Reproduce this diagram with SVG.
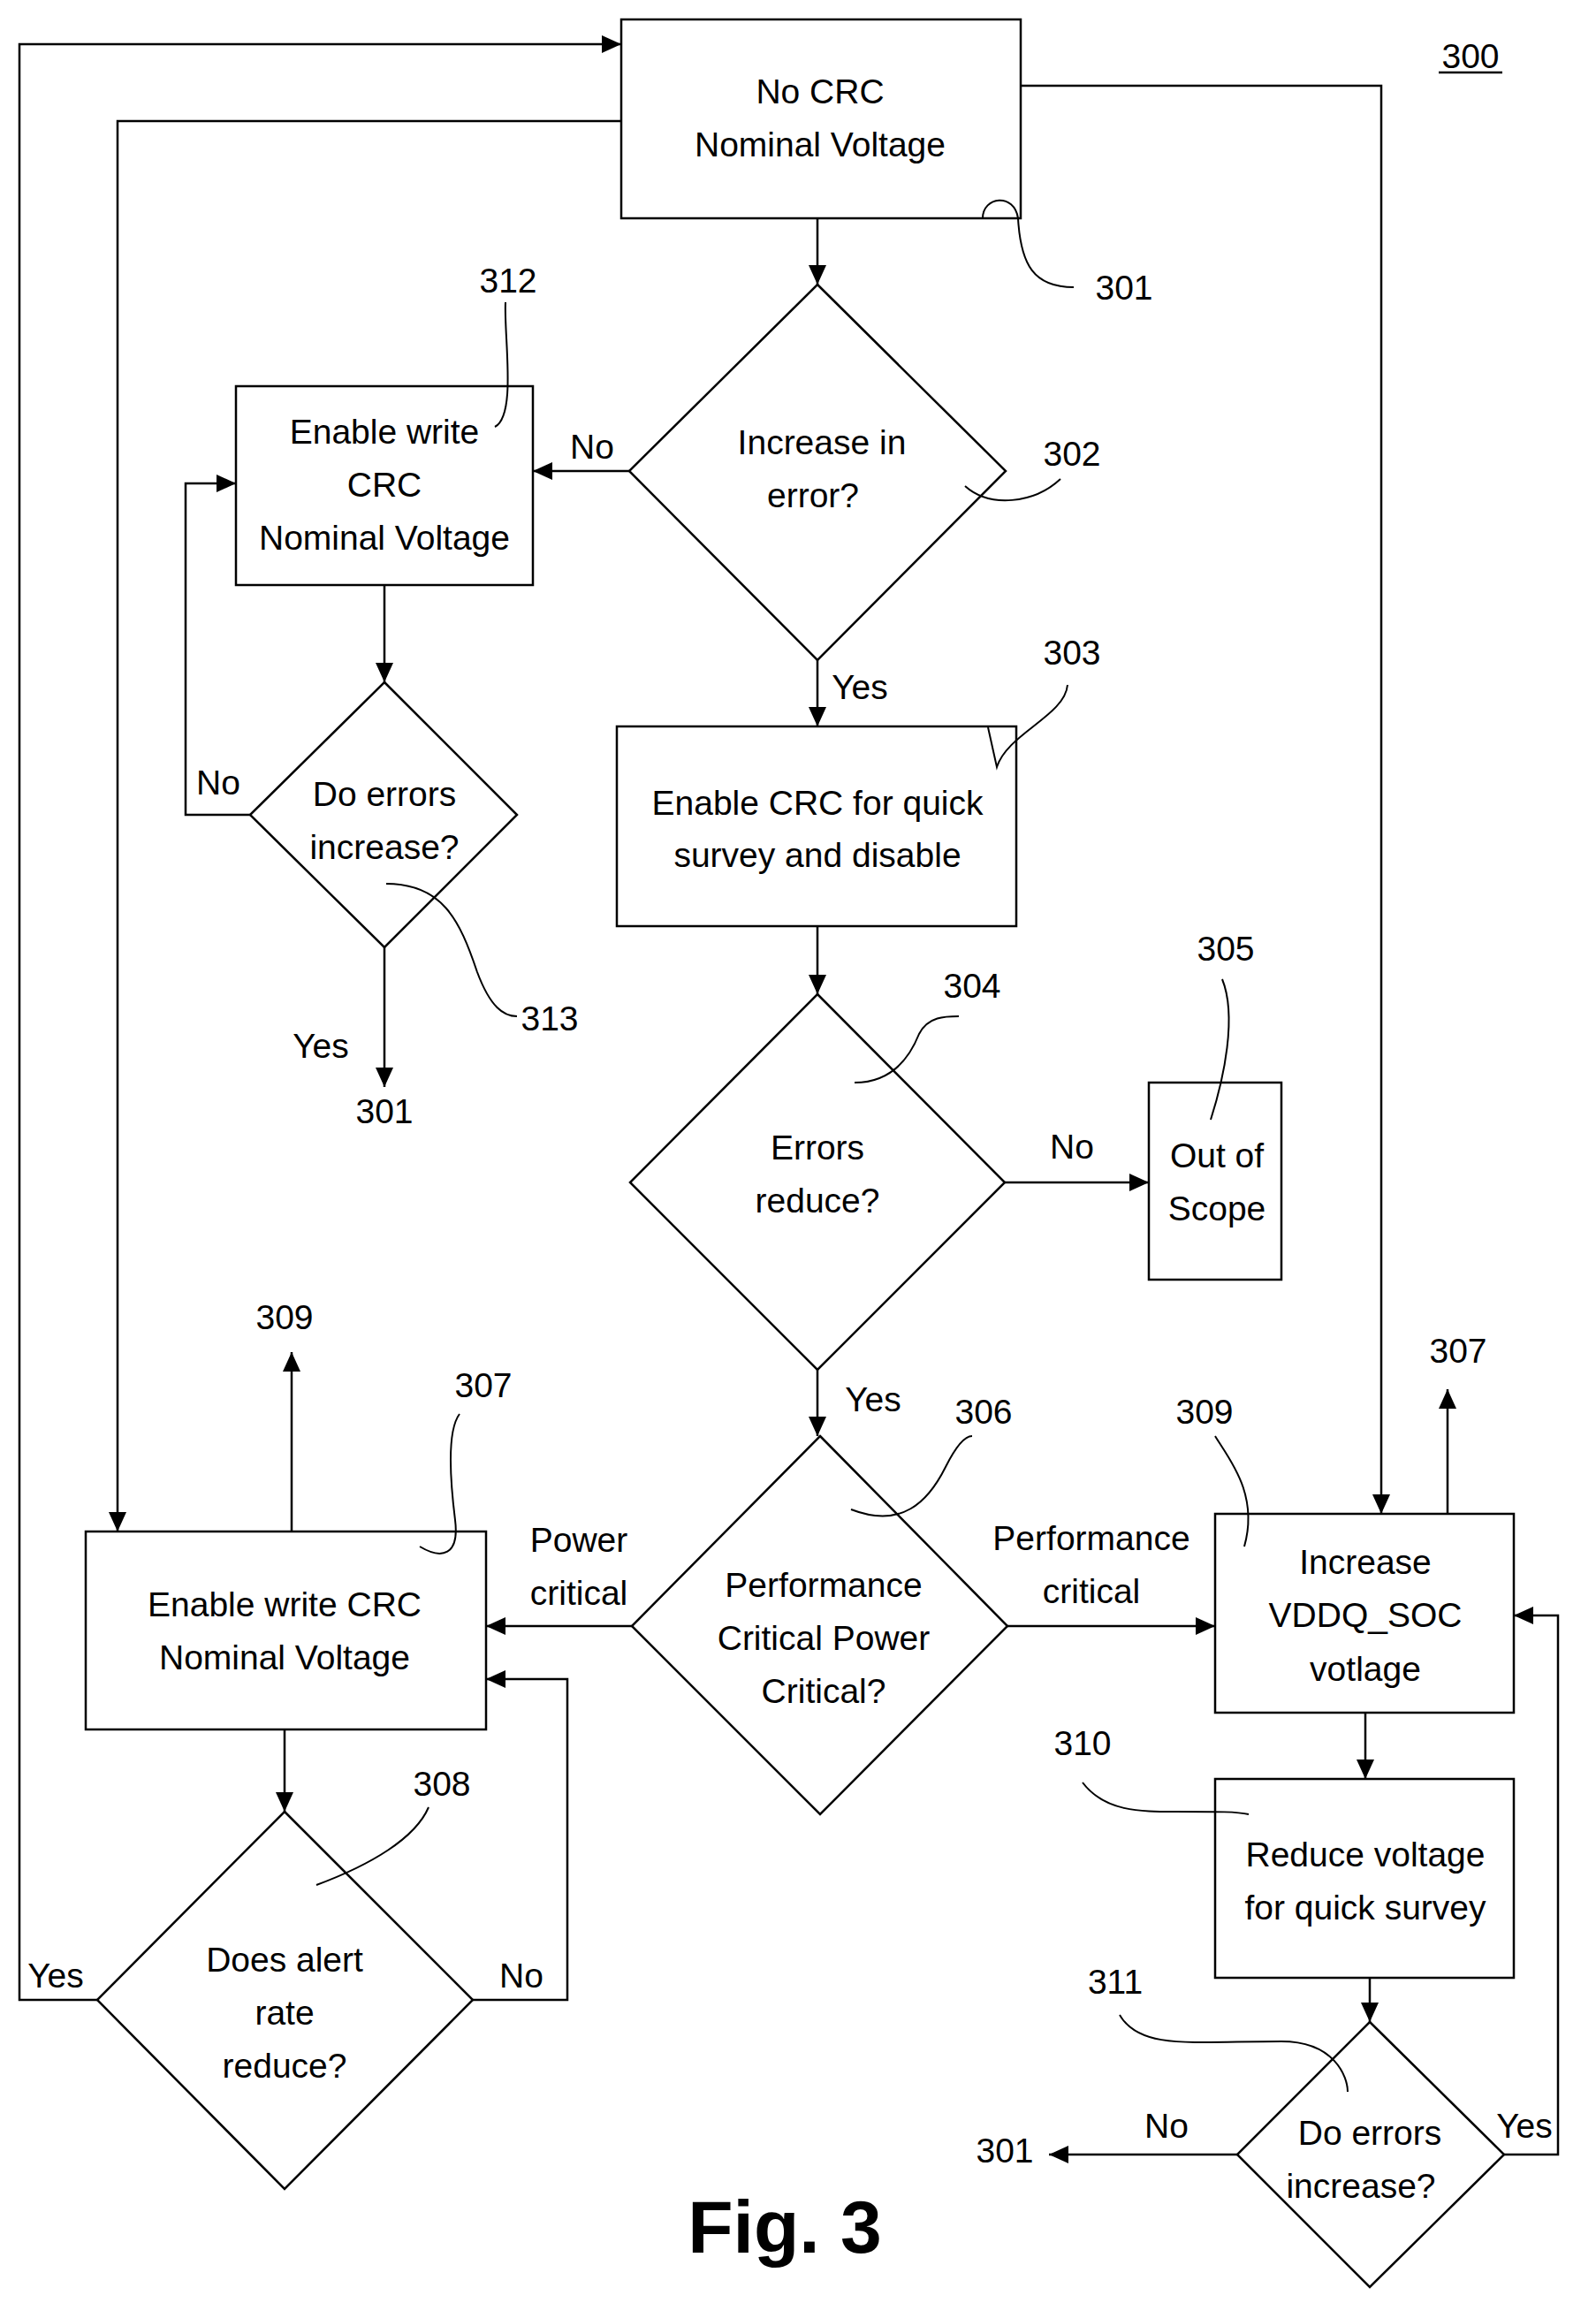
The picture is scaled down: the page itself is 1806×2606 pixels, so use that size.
<svg xmlns="http://www.w3.org/2000/svg" width="1806" height="2606" viewBox="0 0 1806 2606">
<style>
.n{fill:#fff;stroke:#000;stroke-width:2.5}
.c{fill:none;stroke:#000;stroke-width:2.5}
.l{fill:none;stroke:#000;stroke-width:2}
text{font-family:"Liberation Sans",Arial,sans-serif;font-size:39px;fill:#000;text-anchor:middle;dominant-baseline:central}
.f{font-size:84px;font-weight:bold}
</style>
<defs>
<marker id="a" markerUnits="userSpaceOnUse" markerWidth="24" markerHeight="20" refX="22" refY="10" orient="auto"><path d="M0,0 L22,10 L0,20 Z" fill="#000"/></marker>
</defs>
<rect width="1806" height="2606" fill="#fff"/>
<text x="1664" y="63">300</text><line x1="1628" y1="82" x2="1700" y2="82" stroke="#000" stroke-width="2.5"/>
<g id="n301"><rect class="n" x="703" y="22" width="452" height="225"/><text x="928" y="103">No CRC</text><text x="928" y="163">Nominal Voltage</text>
<path class="l" d="M1112,247 C1112,222 1148,218 1152,247 C1155,300 1170,325 1215,325"/><text x="1272" y="325">301</text></g>
<g id="n302"><polygon class="n" points="925,322 1138,533 925,747 712,533"/><text x="930" y="500">Increase in</text><text x="920" y="560">error?</text>
<path class="l" d="M1092,550 C1120,575 1170,570 1200,542"/><text x="1213" y="513">302</text></g>
<g id="n312"><rect class="n" x="267" y="437" width="336" height="225"/><text x="435" y="488">Enable write</text><text x="435" y="548">CRC</text><text x="435" y="608">Nominal Voltage</text>
<path class="l" d="M572,342 C570,380 585,470 560,483"/><text x="575" y="317">312</text></g>
<g id="n313"><polygon class="n" points="435,772 585,922 435,1072 283,922"/><text x="435" y="898">Do errors</text><text x="435" y="958">increase?</text>
<path class="l" d="M437,1000 C500,1000 520,1040 540,1100 C555,1140 570,1150 585,1150"/><text x="622" y="1152">313</text></g>
<g id="n303"><rect class="n" x="698" y="822" width="452" height="226"/><text x="925" y="908">Enable CRC for quick</text><text x="925" y="967">survey and disable</text>
<path class="l" d="M1208,775 C1205,810 1140,830 1128,868 L1118,823"/><text x="1213" y="738">303</text></g>
<g id="n304"><polygon class="n" points="925,1125 1137,1338 925,1550 713,1338"/><text x="925" y="1298">Errors</text><text x="925" y="1358">reduce?</text>
<path class="l" d="M967,1225 C1010,1225 1030,1195 1040,1170 C1050,1150 1070,1150 1085,1150"/><text x="1100" y="1115">304</text></g>
<g id="n305"><rect class="n" x="1300" y="1225" width="150" height="223"/><text x="1377" y="1307">Out of</text><text x="1377" y="1367">Scope</text>
<path class="l" d="M1383,1108 C1400,1150 1385,1220 1370,1267"/><text x="1387" y="1073">305</text></g>
<g id="n306"><polygon class="n" points="928,1625 1140,1840 928,2053 715,1840"/><text x="932" y="1793">Performance</text><text x="932" y="1853">Critical Power</text><text x="932" y="1913">Critical?</text>
<path class="l" d="M963,1708 C1020,1730 1050,1700 1070,1660 C1080,1640 1090,1625 1100,1625"/><text x="1113" y="1597">306</text></g>
<g id="n307"><rect class="n" x="97" y="1733" width="453" height="224"/><text x="322" y="1815">Enable write CRC</text><text x="322" y="1875">Nominal Voltage</text>
<path class="l" d="M520,1600 C505,1620 510,1680 515,1720 C520,1760 500,1765 475,1750"/><text x="547" y="1567">307</text></g>
<g id="n308"><polygon class="n" points="322,2050 535,2263 322,2477 110,2263"/><text x="322" y="2217">Does alert</text><text x="322" y="2277">rate</text><text x="322" y="2337">reduce?</text>
<path class="l" d="M358,2133 C420,2110 470,2080 485,2045"/><text x="500" y="2018">308</text></g>
<g id="n309"><rect class="n" x="1375" y="1713" width="338" height="225"/><text x="1545" y="1767">Increase</text><text x="1545" y="1827">VDDQ_SOC</text><text x="1545" y="1888">votlage</text>
<path class="l" d="M1375,1625 C1390,1650 1425,1690 1408,1750"/><text x="1363" y="1597">309</text></g>
<g id="n310"><rect class="n" x="1375" y="2013" width="338" height="225"/><text x="1545" y="2098">Reduce voltage</text><text x="1545" y="2158">for quick survey</text>
<path class="l" d="M1225,2017 C1250,2050 1290,2050 1330,2050 C1380,2050 1400,2050 1413,2053"/><text x="1225" y="1972">310</text></g>
<g id="n311"><polygon class="n" points="1550,2288 1702,2438 1550,2588 1400,2438"/><text x="1550" y="2413">Do errors</text><text x="1540" y="2473">increase?</text>
<path class="l" d="M1267,2280 C1290,2320 1350,2310 1450,2310 C1510,2310 1525,2350 1525,2367"/><text x="1262" y="2242">311</text></g>
<g id="connectors">
<path class="c" marker-end="url(#a)" d="M925,247 V322"/>
<path class="c" marker-end="url(#a)" d="M712,533 H603"/><text x="670" y="505">No</text>
<path class="c" marker-end="url(#a)" d="M435,662 V772"/>
<path class="c" marker-end="url(#a)" d="M283,922 H210 V547 H267"/><text x="247" y="885">No</text>
<path class="c" marker-end="url(#a)" d="M435,1072 V1230"/><text x="363" y="1183">Yes</text><text x="435" y="1257">301</text>
<path class="c" marker-end="url(#a)" d="M925,747 V822"/><text x="973" y="777">Yes</text>
<path class="c" marker-end="url(#a)" d="M925,1048 V1125"/>
<path class="c" marker-end="url(#a)" d="M1137,1338 H1300"/><text x="1213" y="1297">No</text>
<path class="c" marker-end="url(#a)" d="M925,1550 V1625"/><text x="988" y="1583">Yes</text>
<path class="c" marker-end="url(#a)" d="M715,1840 H550"/><text x="655" y="1742">Power</text><text x="655" y="1802">critical</text>
<path class="c" marker-end="url(#a)" d="M1140,1840 H1375"/><text x="1235" y="1740">Performance</text><text x="1235" y="1800">critical</text>
<path class="c" marker-end="url(#a)" d="M330,1733 V1530"/><text x="322" y="1490">309</text>
<path class="c" marker-end="url(#a)" d="M322,1957 V2050"/>
<path class="c" marker-end="url(#a)" d="M535,2263 H642 V1900 H550"/><text x="590" y="2235">No</text>
<path class="c" marker-end="url(#a)" d="M110,2263 H22 V50 H703"/><text x="63" y="2235">Yes</text>
<path class="c" marker-end="url(#a)" d="M703,137 H133 V1733"/>
<path class="c" marker-end="url(#a)" d="M1155,97 H1563 V1713"/>
<path class="c" marker-end="url(#a)" d="M1638,1713 V1572"/><text x="1650" y="1528">307</text>
<path class="c" marker-end="url(#a)" d="M1545,1938 V2013"/>
<path class="c" marker-end="url(#a)" d="M1550,2238 V2288"/>
<path class="c" marker-end="url(#a)" d="M1400,2438 H1187"/><text x="1320" y="2405">No</text><text x="1137" y="2433">301</text>
<path class="c" marker-end="url(#a)" d="M1702,2438 H1763 V1828 H1713"/><text x="1725" y="2405">Yes</text>
</g>
<text class="f" x="888" y="2520">Fig. 3</text>
</svg>
